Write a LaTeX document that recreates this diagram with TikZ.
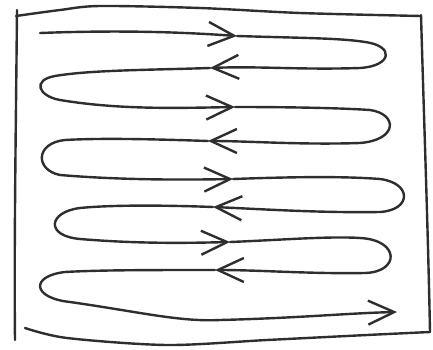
\documentclass[tikz,border=0pt]{standalone}
\usepackage{tikz}
\usetikzlibrary{arrows.meta}
\definecolor{skink}{HTML}{2E2E2E}

\begin{document}
\begin{tikzpicture}[x=1pt,y=-1pt]
      \useasboundingbox (0,0) rectangle (433,350);
      \draw[skink,line width=2.4pt,line cap=round,line join=round] plot[smooth] coordinates {(16,16) (60,10) (100,6) (200,8) (300,13) (421,16)};
      \draw[skink,line width=2.4pt,line cap=round] (17,10) .. controls (16,120) and (14,240) .. (15,340);
      \draw[skink,line width=2.4pt,line cap=round] (421,15) .. controls (424,120) and (428,230) .. (430,332);
      \draw[skink,line width=2.4pt,line cap=round,line join=round] plot[smooth] coordinates {(25,328) (67,338) (167,345) (267,340) (367,335) (430,332)};
      \coordinate (s0) at (40,33);
      \coordinate (r1) at (237,36);
      \coordinate (l1) at (210,68);
      \coordinate (r2) at (235,107);
      \coordinate (l2) at (208,141);
      \coordinate (r3) at (233,179);
      \coordinate (l3) at (213,207);
      \coordinate (r4) at (230,242);
      \coordinate (l4) at (215,270);
      \coordinate (e0) at (397,312);
      \draw[-{Straight Barb[length=26pt,width=24pt]},skink,line width=2.4pt,line cap=round] (s0) .. controls (120,30) and (180,32) .. (r1);
      \draw[-{Straight Barb[length=26pt,width=24pt]},skink,line width=2.4pt,line cap=round] (r1) .. controls (300,38) and (340,38) .. (365,42) .. controls (395,46) and (392,66) .. (360,68) .. controls (300,70) and (260,66) .. (l1);
      \draw[-{Straight Barb[length=26pt,width=24pt]},skink,line width=2.4pt,line cap=round] (l1) .. controls (150,70) and (90,70) .. (55,76) .. controls (32,80) and (38,96) .. (60,100) .. controls (120,110) and (180,108) .. (r2);
      \draw[-{Straight Barb[length=26pt,width=24pt]},skink,line width=2.4pt,line cap=round] (r2) .. controls (290,107) and (340,108) .. (370,110) .. controls (398,114) and (398,140) .. (360,143) .. controls (300,145) and (250,141) .. (l2);
      \draw[-{Straight Barb[length=26pt,width=24pt]},skink,line width=2.4pt,line cap=round] (l2) .. controls (150,139) and (100,138) .. (65,140) .. controls (35,143) and (35,170) .. (60,175) .. controls (120,180) and (180,180) .. (r3);
      \draw[-{Straight Barb[length=26pt,width=24pt]},skink,line width=2.4pt,line cap=round] (r3) .. controls (290,177) and (340,176) .. (380,179) .. controls (412,183) and (412,210) .. (380,212) .. controls (320,213) and (260,209) .. (l3);
      \draw[-{Straight Barb[length=26pt,width=24pt]},skink,line width=2.4pt,line cap=round] (l3) .. controls (160,205) and (110,205) .. (80,208) .. controls (48,212) and (45,236) .. (80,239) .. controls (140,244) and (190,243) .. (r4);
      \draw[-{Straight Barb[length=26pt,width=24pt]},skink,line width=2.4pt,line cap=round] (r4) .. controls (280,240) and (330,236) .. (360,238) .. controls (400,240) and (400,272) .. (365,273) .. controls (310,274) and (260,270) .. (l4);
      \draw[-{Straight Barb[length=26pt,width=24pt]},skink,line width=2.4pt,line cap=round] (l4) .. controls (150,270) and (100,270) .. (65,272) .. controls (30,276) and (32,298) .. (70,302) .. controls (140,312) and (180,322) .. (220,320) .. controls (300,318) and (350,313) .. (e0);
    \end{tikzpicture}
\end{document}
